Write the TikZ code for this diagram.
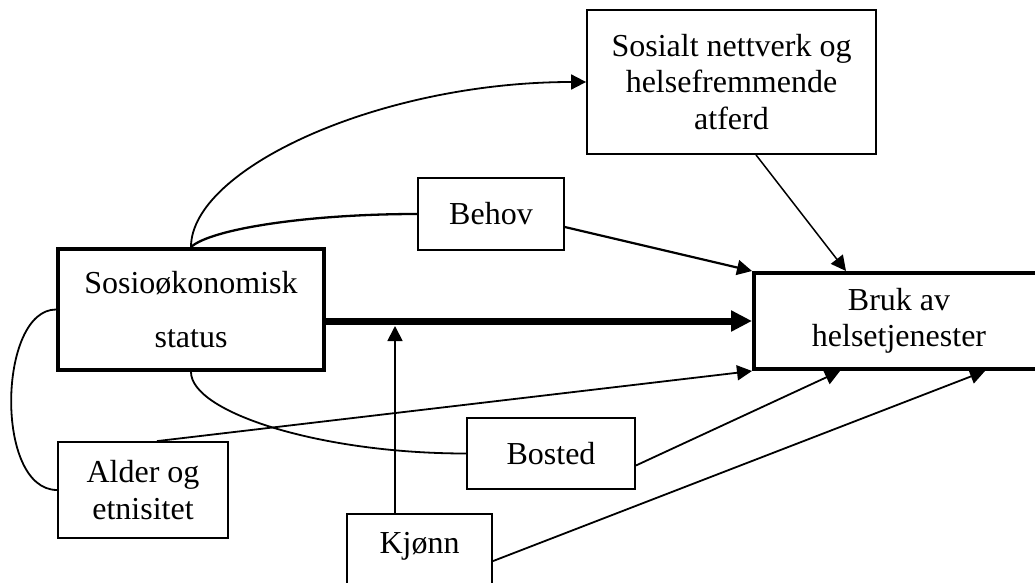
\documentclass[tikz,border=0pt]{standalone}
\usepackage{fontspec}
\setmainfont{Liberation Serif}
\usetikzlibrary{arrows, arrows.meta}
\usetikzlibrary{calc}

\tikzset{
  box/.style={draw, line width=1.8pt, align=center, inner sep=0pt, font=\fontsize{32}{36.5}\selectfont},
  mainbox/.style={box, line width=4pt},
  link/.style={line width=1.8pt},
  effect/.style={line width=1.8pt, -{Triangle[length=15pt, width=15pt]}}
}

\begin{document}
\begin{tikzpicture}[x=1pt, y=-1pt]
    \useasboundingbox (0,0) rectangle (1035,583);
    \clip (0,0) rectangle (1035,583);

    \node[box, minimum width=289, minimum height=144] (sosial) at (731.5,82) {Sosialt nettverk og\\helsefremmende\\atferd};
    \node[box, minimum width=146, minimum height=72] (behov) at (491,214) {Behov};
    \node[mainbox, minimum width=266, minimum height=121] (sosio) at (191,309.5) {Sosioøkonomisk\\[18pt]status};
    \node[mainbox, minimum width=290, minimum height=96] (bruk) at (899,321) {Bruk av\\helsetjenester};
    \node[box, minimum width=168, minimum height=71] (bosted) at (551,453.5) {Bosted};
    \node[box, minimum width=170, minimum height=96] (alder) at (143,490) {Alder og\\etnisitet};
    \node[box, anchor=base, minimum width=145, text height=39pt, text depth=50pt] (kjonn) at (419.5,553) {Kjønn};
    \coordinate (gender) at (395,326);

    \draw[effect] (sosio.north) .. controls +(0,-78) and +(-207,0) .. (sosial.west);
    \draw[link, line width=2.3pt] (sosio.north) .. controls +(20,-18) and +(-110,0) .. (behov.west);
    \draw[link] (sosio.south) .. controls +(0,40) and +(-147,0) .. (bosted.west);
    \draw[link] (sosio.west) .. controls +(-58,0) and +(-63,0) .. (alder.west);

    \draw[line width=7pt, -{Triangle[length=21pt, width=20pt]}] (sosio.east |- bruk.west) -- (bruk.west);
    \draw[effect] (kjonn.north -| gender) -- (gender);
    \draw[effect, line width=2.2pt] (behov.-10) -- (bruk.north west);
    \draw[effect, line width=1.5pt] ([xshift=24.5pt]sosial.south) -- ([xshift=94pt]bruk.north west);
    \draw[effect] ([xshift=14pt]alder.north) -- (bruk.south west);
    \draw[effect] ([yshift=-12pt]bosted.east) -- ([xshift=88pt]bruk.south west);
    \draw[effect] ([yshift=-48pt]kjonn.north east) -- ([xshift=233pt]bruk.south west);
\end{tikzpicture}
\end{document}
